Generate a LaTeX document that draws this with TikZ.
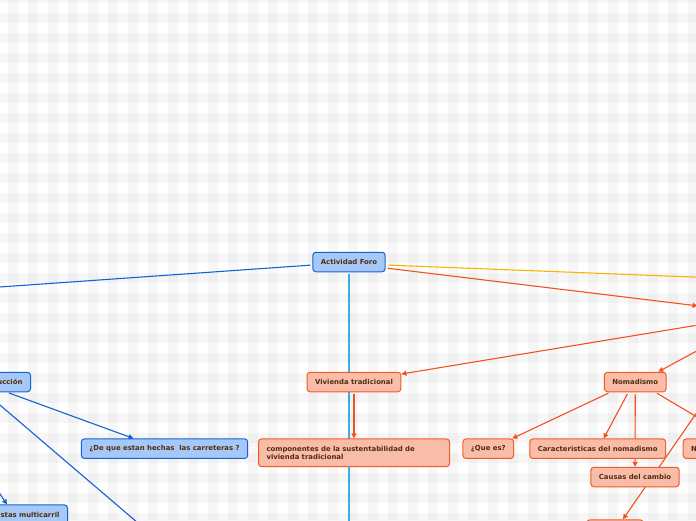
\documentclass[tikz,border=0pt]{standalone}
\usepackage{fontspec}
\setmainfont{DejaVu Sans}
\usetikzlibrary{arrows.meta, positioning, backgrounds}

\definecolor{topicblue}{RGB}{21,97,212}
\definecolor{bluefill}{RGB}{166,200,248}
\definecolor{topicorange}{RGB}{242,90,40}
\definecolor{orangefill}{RGB}{249,188,168}
\definecolor{linkorange}{RGB}{244,81,30}
\definecolor{linkyellow}{RGB}{247,180,0}
\definecolor{linkcyan}{RGB}{58,174,232}
\definecolor{textbrown}{RGB}{80,45,15}

\tikzset{
  topic/.style={rounded corners=3pt, line width=1pt, text=textbrown,
    font=\fontsize{6.9}{8.3}\selectfont\bfseries,
    inner xsep=8pt, inner ysep=0pt, minimum height=19.5pt},
  bluetopic/.style={topic, draw=topicblue, fill=bluefill},
  orangetopic/.style={topic, draw=topicorange, fill=orangefill},
  branch/.style={line width=1.1pt, shorten <=2pt, -{Triangle[length=5pt,width=5pt]}},
  bluebranch/.style={branch, draw=topicblue},
  orangebranch/.style={branch, draw=linkorange},
  gridband/.style={fill=black, opacity=0.03}
}

\begin{document}
\begin{tikzpicture}[x=1pt,y=-1pt]
    \useasboundingbox (0,0) rectangle (696,520);
    \clip (0,0) rectangle (696,520);

    % central topic
    \node[bluetopic] (foro) at (349,262) {Actividad Foro};

    % left branch
    \node[bluetopic, anchor=east, text width=100pt, align=right] (constr) at (31,382) {ucción};
    \node[bluetopic] (hechas) at (164.5,448.7) {¿De que estan hechas\ \ las carreteras ?};
    \node[bluetopic, anchor=east, text width=100pt, align=right] (multi) at (68,514.7) {istas multicarril};

    % right branch
    \node[orangetopic, minimum width=134pt, minimum height=30pt] (hub) at (765,314) {};
    \node[orangetopic] (viv) at (354,382) {Vivienda tradicional};
    \node[orangetopic, text width=175pt, align=left, minimum height=27.7pt] (comp) at (354,452.8)
        {componentes de la sustentabilidad de\\vivienda tradicional};
    \node[orangetopic] (nomad) at (635.3,382) {Nomadismo};
    \node[orangetopic] (quees) at (488.3,448.7) {¿Que es?};
    \node[orangetopic] (caract) at (597.7,448.7) {Caracteristicas del nomadismo};
    \node[orangetopic] (causas) at (635,477) {Causas del cambio};
    \node[orangetopic, anchor=west, text width=94pt, align=left] (nmore) at (682.7,448.7) {N};
    \node[orangetopic, minimum width=56pt] (lower) at (615,529.5) {};

    \coordinate (leftroot) at (-120,295.4);
    \coordinate (rightroot) at (800,281.2);
    \coordinate (downroot) at (349,580);
    \coordinate (diagend) at (200,576);

    \begin{scope}[on background layer]
      \fill[white] (0,0) rectangle (696,520);
      \foreach \k in {0,...,34} { \fill[gridband] (8+20*\k,0) rectangle ++(10,520); }
      \foreach \k in {-1,...,25} { \fill[gridband] (0,13+20*\k) rectangle ++(696,10); }

      \draw[bluebranch] ([yshift=-3pt]foro.west) -- (leftroot);
      \draw[branch, draw=linkyellow] ([yshift=-3pt]foro.east) -- (rightroot);
      \draw[orangebranch] ([yshift=-6pt]foro.east) -- (hub);
      \draw[branch, draw=linkcyan] (foro) -- (downroot);

      \draw[bluebranch] ([xshift=-24pt]constr.south east) -- ([xshift=-31pt]hechas.north);
      \draw[bluebranch] ([xshift=-46pt]constr.south east) -- (diagend);
      \draw[bluebranch] ([xshift=-99pt]constr.south east) -- ([xshift=-61pt]multi.north east);

      \draw[orangebranch] (hub) -- ([yshift=8pt]viv.east);
      \draw[orangebranch] (hub) -- ([xshift=23pt]nomad.north);
      \draw[orangebranch] (hub) -- ([xshift=8pt]lower.north);
      \draw[orangebranch] (viv) -- (comp);

      \draw[orangebranch] ([xshift=-25pt]nomad.south) -- ([xshift=24pt]quees.north);
      \draw[orangebranch] ([xshift=-7pt]nomad.south) -- ([xshift=6pt]caract.north);
      \draw[orangebranch] (nomad) -- (causas);
      \draw[orangebranch] ([xshift=20pt]nomad.south) -- ([xshift=-5pt]nmore.north);
    \end{scope}
\end{tikzpicture}
\end{document}
